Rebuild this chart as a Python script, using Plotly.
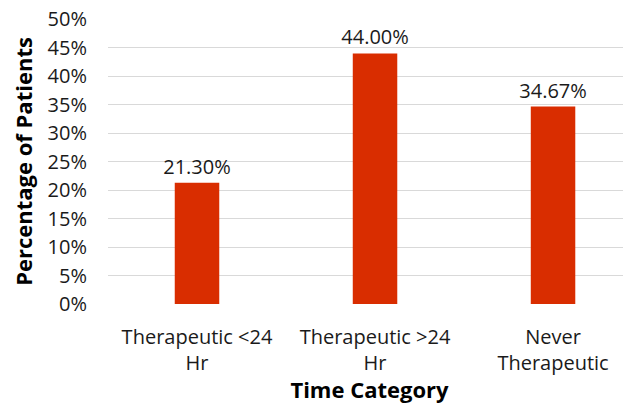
import plotly.graph_objects as go

categories = ["Therapeutic <24<br>Hr", "Therapeutic >24<br>Hr", "Never<br>Therapeutic"]
percentages = [21.30, 44.00, 34.67]
y_ticks = [0, 5, 10, 15, 20, 25, 30, 35, 40, 45, 50]
y_tick_labels = [f"{v}%" for v in y_ticks]
bar_labels = [f"{v:.2f}%" for v in percentages]

FONT = "Open Sans, sans-serif"
TXT = "#1a1a1a"

fig = go.Figure(
    go.Bar(
        x=list(range(len(categories))),
        y=percentages,
        text=bar_labels,
        textposition="outside",
        constraintext="none",
        textfont=dict(family=FONT, size=20, color=TXT),
        marker=dict(color="#D92D00", line=dict(width=0)),
        width=0.25,
        cliponaxis=False,
    )
)

# The page body has an 8px margin, so the figure is sized to fit the window.
fig.update_layout(
    width=623,
    height=396,
    margin=dict(l=100, r=0, t=11, b=100, autoexpand=False),
    paper_bgcolor="white",
    plot_bgcolor="white",
    showlegend=False,
    font=dict(family=FONT, size=20, color=TXT),
    xaxis=dict(
        range=[-0.5, 2.438],
        tickmode="array",
        tickvals=list(range(len(categories))),
        ticktext=categories,
        showgrid=False,
        showline=False,
        zeroline=False,
        ticks="",
        automargin=False,
        ticklabelstandoff=19,
        tickfont=dict(family=FONT, size=20, color=TXT),
        title=dict(text="<b>Time Category</b>", font=dict(family=FONT, size=22, color="#000"), standoff=5),
    ),
    yaxis=dict(
        range=[0, 50.05],
        tickmode="array",
        tickvals=y_ticks,
        ticktext=y_tick_labels,
        showgrid=True,
        gridcolor="#D9D9D9",
        gridwidth=1,
        zeroline=False,
        showline=False,
        ticks="",
        automargin=False,
        ticklabelstandoff=20,
        ticklabeloverflow="allow",
        tickfont=dict(family=FONT, size=20, color=TXT),
        title=dict(text="<b>Percentage of Patients</b>", font=dict(family=FONT, size=22, color="#000"), standoff=12),
    ),
)

fig.write_html("out.html")
